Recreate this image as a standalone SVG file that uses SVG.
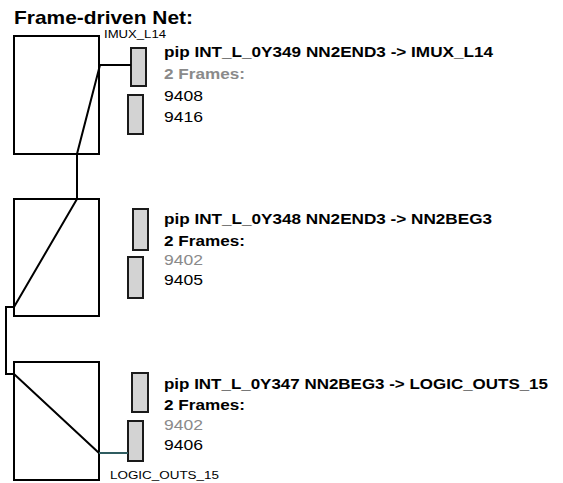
<svg xmlns="http://www.w3.org/2000/svg" width="563" height="483" viewBox="0 0 563 483">
<style>
text{font-family:"Liberation Sans",Arial,sans-serif;}
.title{font-size:19px;font-weight:bold;fill:#000;}
.tile{fill:#fff;stroke:#000;stroke-width:2;}
.pip{fill:#d3d3d3;stroke:#1a1a1a;stroke-width:2;}
.wire{fill:none;stroke:#000;stroke-width:2;}
.teal{fill:none;stroke:#2f5c60;stroke-width:2;}
.h{font-size:15px;font-weight:bold;fill:#000;}
.fr{font-size:15px;font-weight:bold;}
.num{font-size:15px;}
.lbl{font-size:10px;fill:#000;}
</style>
<rect width="563" height="483" fill="#fff"/>
<text class="title" x="14" y="24" textLength="179" lengthAdjust="spacingAndGlyphs">Frame-driven Net:</text>
<g id="tile1">
<rect class="tile" x="14" y="36" width="85" height="118"/>
<text class="lbl" x="104" y="38" textLength="62" lengthAdjust="spacingAndGlyphs">IMUX_L14</text>
</g>
<g id="tile2">
<rect class="tile" x="14" y="199" width="85" height="117"/>
</g>
<g id="tile3">
<rect class="tile" x="14" y="362" width="85" height="118"/>
<text class="lbl" x="110" y="479" textLength="109" lengthAdjust="spacingAndGlyphs">LOGIC_OUTS_15</text>
</g>
<g id="pip1">
<rect class="pip" x="131" y="48" width="15" height="38"/>
<rect class="pip" x="128" y="95" width="15" height="39"/>
<text class="h" x="164" y="57" textLength="329" lengthAdjust="spacingAndGlyphs">pip INT_L_0Y349 NN2END3 -&gt; IMUX_L14</text>
<text class="fr" x="164" y="79" fill="#8a8a8a" textLength="81" lengthAdjust="spacingAndGlyphs">2 Frames:</text>
<text class="num" x="164" y="101" fill="#000" textLength="39" lengthAdjust="spacingAndGlyphs">9408</text>
<text class="num" x="164" y="122" fill="#000" textLength="39" lengthAdjust="spacingAndGlyphs">9416</text>
</g>
<g id="pip2">
<rect class="pip" x="133" y="209" width="15" height="41"/>
<rect class="pip" x="128" y="257" width="15" height="41"/>
<text class="h" x="164" y="224" textLength="328" lengthAdjust="spacingAndGlyphs">pip INT_L_0Y348 NN2END3 -&gt; NN2BEG3</text>
<text class="fr" x="164" y="246" fill="#000" textLength="81" lengthAdjust="spacingAndGlyphs">2 Frames:</text>
<text class="num" x="164" y="265" fill="#8a8a8a" textLength="39" lengthAdjust="spacingAndGlyphs">9402</text>
<text class="num" x="164" y="285" fill="#000" textLength="39" lengthAdjust="spacingAndGlyphs">9405</text>
</g>
<g id="pip3">
<rect class="pip" x="132" y="373" width="16" height="39"/>
<rect class="pip" x="128" y="421" width="15" height="40"/>
<text class="h" x="164" y="389" textLength="384" lengthAdjust="spacingAndGlyphs">pip INT_L_0Y347 NN2BEG3 -&gt; LOGIC_OUTS_15</text>
<text class="fr" x="164" y="410" fill="#000" textLength="81" lengthAdjust="spacingAndGlyphs">2 Frames:</text>
<text class="num" x="164" y="430" fill="#8a8a8a" textLength="39" lengthAdjust="spacingAndGlyphs">9402</text>
<text class="num" x="164" y="450" fill="#000" textLength="39" lengthAdjust="spacingAndGlyphs">9406</text>
</g>
<g id="connectors">
<polyline class="wire" points="131,65 100,65 77,154 77,199 14,307 6,307 6,374 14,374 99,453"/>
<line class="teal" x1="99" y1="453" x2="128" y2="453"/>
</g>
</svg>
